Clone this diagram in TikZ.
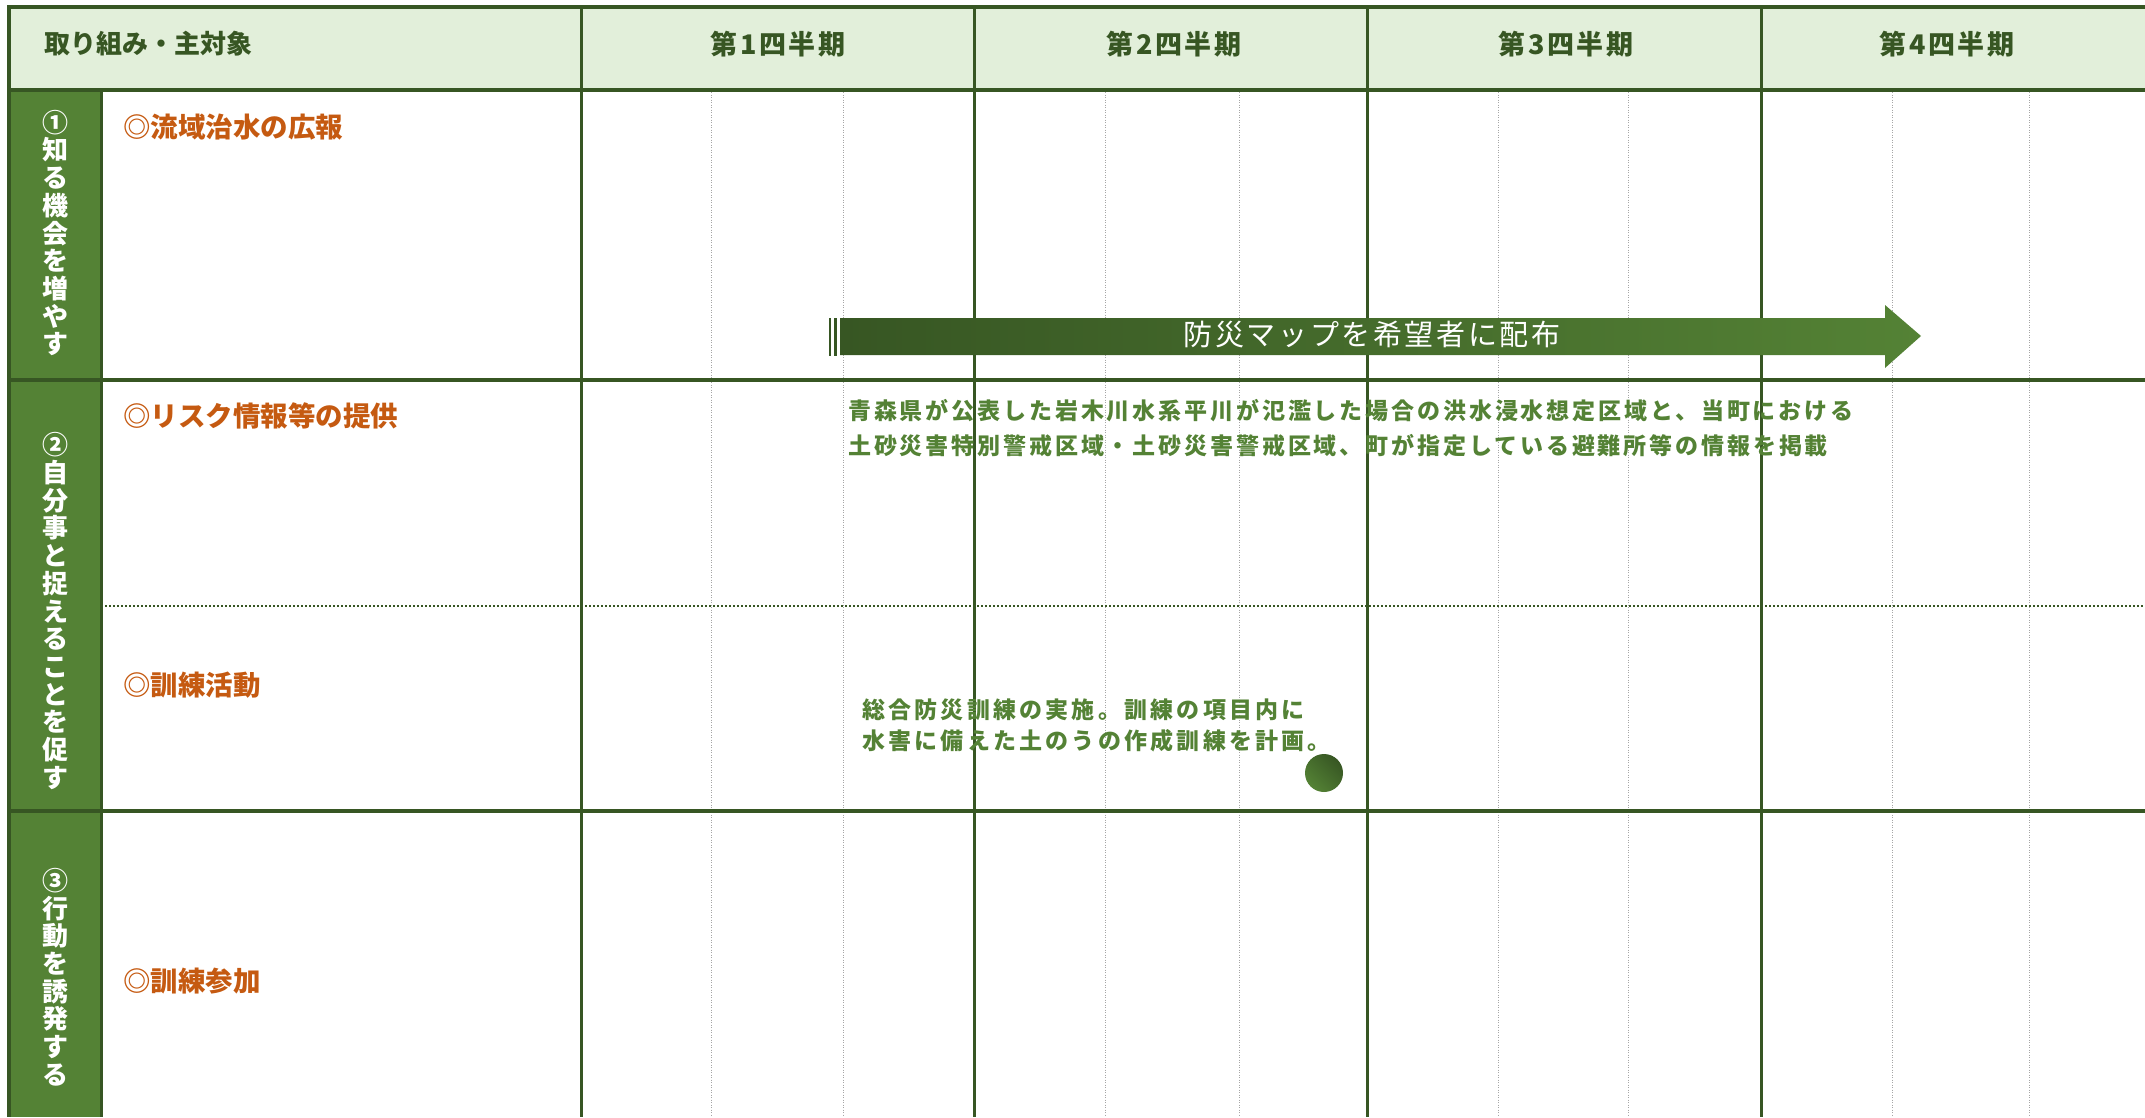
\documentclass[tikz,border=0pt]{standalone}
\usepackage{fontspec}
\setmainfont{Noto Sans CJK JP}
\definecolor{lineg}{HTML}{375623}
\definecolor{headfill}{HTML}{E2EFDA}
\definecolor{colg}{HTML}{548235}
\definecolor{orng}{HTML}{C55A11}
\definecolor{gridgray}{HTML}{A6A6A6}
\tikzset{
  hdr/.style={font=\bfseries\fontsize{26}{30}\selectfont, text=lineg, inner sep=0pt},
  qhdr/.style={font=\bfseries\fontsize{27}{30}\selectfont\addfontfeature{LetterSpace=10}, text=lineg, inner sep=0pt},
  vtext/.style={font=\bfseries\fontsize{26}{27.7}\selectfont, text=white, align=center, inner sep=0pt},
  itemtxt/.style={font=\bfseries\fontsize{27.5}{30}\selectfont, text=orng, anchor=west, inner sep=0pt},
  info/.style={text=colg, align=left, anchor=west, inner sep=0pt},
  mainline/.style={draw=lineg, line width=3.5pt},
  gridline/.style={draw=gridgray, dash pattern=on 1pt off 1.5pt, line width=1pt},
}
\begin{document}
\begin{tikzpicture}[x=1pt,y=-1pt]
\useasboundingbox (0,0) rectangle (2145,1117);
% fills
\fill[headfill] (9,7) rectangle (2145,90);
\fill[colg] (9,90) rectangle (101,1117);
% sub grid
\foreach \gx in {711,843,1105,1239,1498,1628,1892,2029}
  \draw[gridline] (\gx,92) -- (\gx,1117);
% dotted separator
\draw[draw=lineg, line width=2pt, dash pattern=on 2pt off 2pt] (101,606) -- (2145,606);
% main lines
\draw[mainline, line width=4pt] (9,7) -- (2145,7);
\draw[mainline, line width=4pt] (9,5) -- (9,1117);
\draw[mainline, line width=4pt] (9,90) -- (2145,90);
\draw[mainline, line width=4pt] (9,380) -- (2145,380);
\draw[mainline, line width=4pt] (9,811) -- (2145,811);
\draw[mainline, line width=3pt] (101,90) -- (101,1117);
\foreach \gx in {581,974,1367,1761}
  \draw[mainline, line width=3pt] (\gx,7) -- (\gx,1117);
% header texts
\node[hdr, anchor=west] (hmain) at (44,44) {取り組み・主対象};
\node[qhdr] (q1) at (778,44) {第1四半期};
\node[qhdr] (q2) at (1174,44) {第2四半期};
\node[qhdr] (q3) at (1566,44) {第3四半期};
\node[qhdr] (q4) at (1947,44) {第4四半期};
% vertical category texts
\node[vtext] (c1) at (55,233) {①\\知\\る\\機\\会\\を\\増\\や\\す};
\node[vtext] (c2) at (55,611) {②\\自\\分\\事\\と\\捉\\え\\る\\こ\\と\\を\\促\\す};
\node[vtext] (c3) at (55,977) {③\\行\\動\\を\\誘\\発\\す\\る};
% item texts
\node[itemtxt] (i1) at (123,127) {◎流域治水の広報};
\node[itemtxt] (i2) at (123,416) {◎リスク情報等の提供};
\node[itemtxt] (i3) at (123,685) {◎訓練活動};
\node[itemtxt] (i4) at (123,981) {◎訓練参加};
% arrow
\fill[lineg] (829,318) rectangle (831,356);
\fill[lineg] (834,318) rectangle (837,356);
\shade[left color=lineg, right color=colg]
  (840,318) -- (1885,318) -- (1885,305) -- (1921,336) -- (1885,368) -- (1885,355) -- (840,355) -- cycle;
\node[font=\fontsize{29}{30}\selectfont\addfontfeature{LetterSpace=9}, text=white, inner sep=0pt] (arrtxt) at (1372,335) {防災マップを希望者に配布};
% info texts
\node[info, font=\bfseries\fontsize{23}{35}\selectfont\addfontfeature{LetterSpace=12.5}] (info1) at (848,428)
  {青森県が公表した岩木川水系平川が氾濫した場合の洪水浸水想定区域と、当町における\\土砂災害特別警戒区域・土砂災害警戒区域、町が指定している避難所等の情報を掲載};
\node[info, font=\bfseries\fontsize{23}{31}\selectfont\addfontfeature{LetterSpace=14}] (info2) at (862,725)
  {総合防災訓練の実施。訓練の項目内に\\水害に備えた土のうの作成訓練を計画。};
% marker
\shade[left color=lineg, right color=colg, shading angle=-45] (1324,773) circle (19);
\end{tikzpicture}
\end{document}
